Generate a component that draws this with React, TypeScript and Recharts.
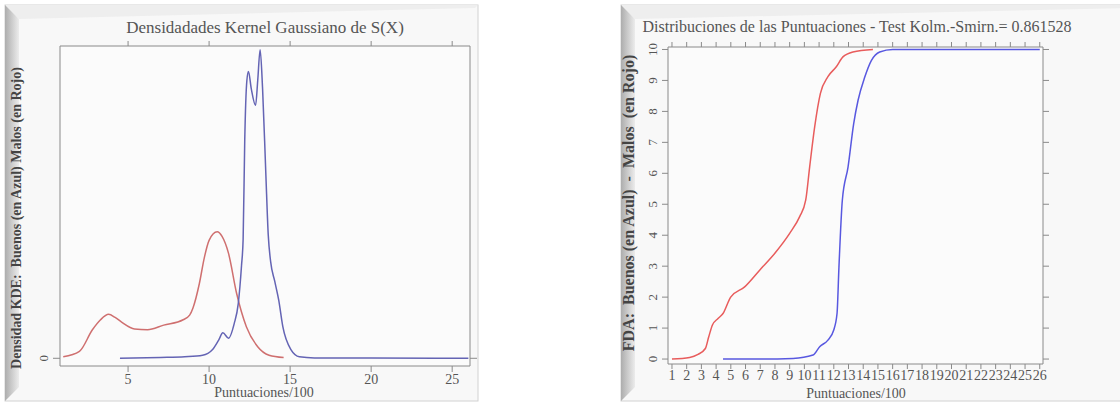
import React from 'react';
import { LineChart, Line, XAxis, YAxis, CartesianGrid } from 'recharts';

// Densidad KDE (grafico izquierdo)
const kdeMalosX = [1.0, 2.0, 2.8, 3.3, 3.8, 4.2, 4.6, 5.4, 6.2, 7.2, 8.4, 8.8, 9.0, 9.4, 9.7, 10.0, 10.5, 10.8, 11.2, 11.7, 12.3, 13.0, 13.7, 14.6];
const kdeMalosY = [0.002, 0.009, 0.037, 0.05, 0.057, 0.053, 0.047, 0.038, 0.037, 0.043, 0.05, 0.056, 0.065, 0.097, 0.13, 0.153, 0.164, 0.158, 0.136, 0.084, 0.041, 0.015, 0.004, 0.001];
const kdeBuenosX = [4.5, 7.0, 8.5, 9.6, 10.2, 10.6, 10.85, 11.2, 11.55, 11.8, 12.0, 12.1, 12.2, 12.33, 12.43, 12.6, 12.87, 13.0, 13.15, 13.3, 13.5, 13.65, 13.8, 14.05, 14.3, 14.55, 15.06, 15.57, 16.5, 20.0, 26.0];
const kdeBuenosY = [0, 0.001, 0.002, 0.004, 0.011, 0.024, 0.033, 0.026, 0.045, 0.071, 0.12, 0.154, 0.283, 0.36, 0.372, 0.35, 0.328, 0.36, 0.4, 0.35, 0.24, 0.16, 0.125, 0.1, 0.075, 0.041, 0.011, 0.002, 0.0005, 0.0003, 0];
const kdeTicksX = [5, 10, 15, 20, 25];

// FDA (grafico derecho), escala 0-10
const fdaMalosX = [1.0, 2.2, 2.77, 3.27, 3.5, 3.75, 4.13, 4.47, 4.99, 5.94, 6.96, 7.98, 9.0, 9.68, 10.09, 10.36, 10.7, 11.09, 11.6, 12.17, 12.62, 13.3, 14.66];
const fdaMalosY = [0, 0.05, 0.15, 0.34, 0.72, 1.1, 1.31, 1.47, 2.0, 2.33, 2.87, 3.41, 4.06, 4.6, 5.13, 6.21, 7.5, 8.58, 9.12, 9.44, 9.76, 9.92, 10.0];
const fdaBuenosX = [4.47, 7.0, 9.23, 10.59, 11.04, 11.6, 11.99, 12.22, 12.35, 12.58, 12.97, 13.35, 13.65, 14.1, 14.55, 15.12, 16.0, 26.0];
const fdaBuenosY = [0, 0, 0.02, 0.13, 0.4, 0.61, 0.93, 1.47, 2.97, 5.13, 6.21, 7.6, 8.36, 9.1, 9.64, 9.92, 10.0, 10.0];
const fdaTicksX = Array.from({ length: 26 }, (_, i) => i + 1);
const fdaTicksY = [0, 1, 2, 3, 4, 5, 6, 7, 8, 9, 10];

const toPts = (xs: number[], ys: number[]) => xs.map((x, i) => ({ x, y: ys[i] }));

const SERIF = '"Liberation Serif", "DejaVu Serif", serif';
const AXIS = '#8a8a8a';
const TXT = '#555';

const RotTick = ({ x, y, payload }: any) => (
  <text x={x - 1} y={y} transform={`rotate(-90 ${x - 1} ${y})`} textAnchor="middle" fill={TXT} fontSize={13} fontFamily={SERIF}>
    {payload.value}
  </text>
);
const NoLabel = () => <g />;

const Frame = ({ x, w }: { x: number; w: number }) => {
  const t = 5, b = 401, bev = 14;
  return (
    <svg style={{ position: 'absolute', left: 0, top: 0 }} width={1120} height={403}>
      <defs>
        <linearGradient id={`bv${x}`} x1="0" x2="1" y1="0" y2="0">
          <stop offset="0" stopColor="#adadad" />
          <stop offset="1" stopColor="#ececec" />
        </linearGradient>
      </defs>
      <rect x={x} y={t} width={w} height={b - t} fill="#f8f8f8" stroke="#d2d2d2" />
      <polygon points={`${x},${t} ${x + w},${t} ${x + w - 3},${t + 3} ${x + bev},${t + 14}`} fill="#eeeeee" />
      <polygon points={`${x},${t} ${x + bev},${t + 14} ${x + bev},${b - 14} ${x},${b}`} fill={`url(#bv${x})`} />
    </svg>
  );
};

const Text = ({ x, y, size, rot, bold, children }: any) => (
  <div
    style={{
      position: 'absolute', left: x, top: y, whiteSpace: 'pre', fontFamily: SERIF, fontSize: size,
      color: bold ? '#444' : TXT, fontWeight: bold ? 'bold' : 'normal', lineHeight: 1,
      transform: `translate(-50%, -50%)${rot ? ' rotate(-90deg)' : ''}`,
    }}
  >
    {children}
  </div>
);

export default function App() {
  return (
    <div style={{ position: 'absolute', left: 0, top: 0, width: 1120, height: 403, background: '#fff', overflow: 'hidden' }}>
      <Frame x={5} w={473} />
      <Frame x={621} w={510} />

      {/* Izquierdo: densidades KDE */}
      <div style={{ position: 'absolute', left: 0, top: 0 }}>
        <LineChart width={480} height={403} margin={{ top: 36, right: 0, bottom: 7, left: 30 }}>
          <CartesianGrid fill="#fbfbfb" horizontal={false} vertical={false} />
          <XAxis xAxisId="b" type="number" dataKey="x" domain={[0.8, 26.1]} ticks={kdeTicksX} allowDataOverflow
            height={30} stroke={AXIS} tickSize={6} tickMargin={2} tick={{ fill: TXT, fontSize: 14, fontFamily: SERIF }} />
          <XAxis xAxisId="t" orientation="top" type="number" dataKey="x" domain={[0.8, 26.1]} ticks={kdeTicksX} allowDataOverflow
            height={10} stroke={AXIS} tickSize={5} tick={<NoLabel />} />
          <YAxis yAxisId="l" type="number" domain={[-0.01, 0.405]} ticks={[0]} allowDataOverflow width={30}
            stroke={AXIS} tickSize={7} tickMargin={4} tick={<RotTick />} />
          <YAxis yAxisId="r" orientation="right" type="number" domain={[-0.01, 0.405]} ticks={[0]} allowDataOverflow width={10}
            stroke={AXIS} tickSize={7} tick={<NoLabel />} />
          <Line xAxisId="b" yAxisId="l" data={toPts(kdeMalosX, kdeMalosY)} dataKey="y" type="monotone" stroke="#cf6f6f"
            strokeWidth={1.5} dot={false} isAnimationActive={false} />
          <Line xAxisId="b" yAxisId="l" data={toPts(kdeBuenosX, kdeBuenosY)} dataKey="y" type="monotone" stroke="#6464b4"
            strokeWidth={1.5} dot={false} isAnimationActive={false} />
        </LineChart>
      </div>

      {/* Derecho: FDA */}
      <div style={{ position: 'absolute', left: 560, top: 0 }}>
        <LineChart width={560} height={403} margin={{ top: 37, right: 67, bottom: 19, left: 78 }}>
          <CartesianGrid fill="#fbfbfb" horizontal={false} vertical={false} />
          <XAxis xAxisId="b" type="number" dataKey="x" domain={[0.73, 26.22]} ticks={fdaTicksX} allowDataOverflow interval={0}
            height={20} stroke={AXIS} tickSize={5} tickMargin={1} tick={{ fill: TXT, fontSize: 14, fontFamily: SERIF }} />
          <XAxis xAxisId="t" orientation="top" type="number" dataKey="x" domain={[0.73, 26.22]} ticks={fdaTicksX} allowDataOverflow interval={0}
            height={10} stroke={AXIS} tickSize={5} tick={<NoLabel />} />
          <YAxis yAxisId="l" type="number" domain={[-0.16, 10.08]} ticks={fdaTicksY} allowDataOverflow interval={0} width={30}
            stroke={AXIS} tickSize={6} tickMargin={4} tick={<RotTick />} />
          <YAxis yAxisId="r" orientation="right" type="number" domain={[-0.16, 10.08]} ticks={fdaTicksY} allowDataOverflow interval={0} width={10}
            stroke={AXIS} tickSize={6} tick={<NoLabel />} />
          <Line xAxisId="b" yAxisId="l" data={toPts(fdaMalosX, fdaMalosY)} dataKey="y" type="monotone" stroke="#e85c5c"
            strokeWidth={1.5} dot={false} isAnimationActive={false} />
          <Line xAxisId="b" yAxisId="l" data={toPts(fdaBuenosX, fdaBuenosY)} dataKey="y" type="monotone" stroke="#5858e0"
            strokeWidth={1.5} dot={false} isAnimationActive={false} />
        </LineChart>
      </div>

      <Text x={265} y={27} size={17}>Densidadades Kernel Gaussiano de S(X)</Text>
      <Text x={264} y={393} size={14}>Puntuaciones/100</Text>
      <Text x={17} y={218} size={14} rot bold>{'Densidad KDE:  Buenos (en Azul) Malos (en Rojo)'}</Text>

      <Text x={857} y={27} size={16}>Distribuciones de las Puntuaciones - Test Kolm.-Smirn.= 0.861528</Text>
      <Text x={856} y={394} size={14}>Puntuaciones/100</Text>
      <Text x={629} y={203} size={16} rot bold>{'FDA:  Buenos (en Azul)  -  Malos  (en Rojo)'}</Text>
    </div>
  );
}
